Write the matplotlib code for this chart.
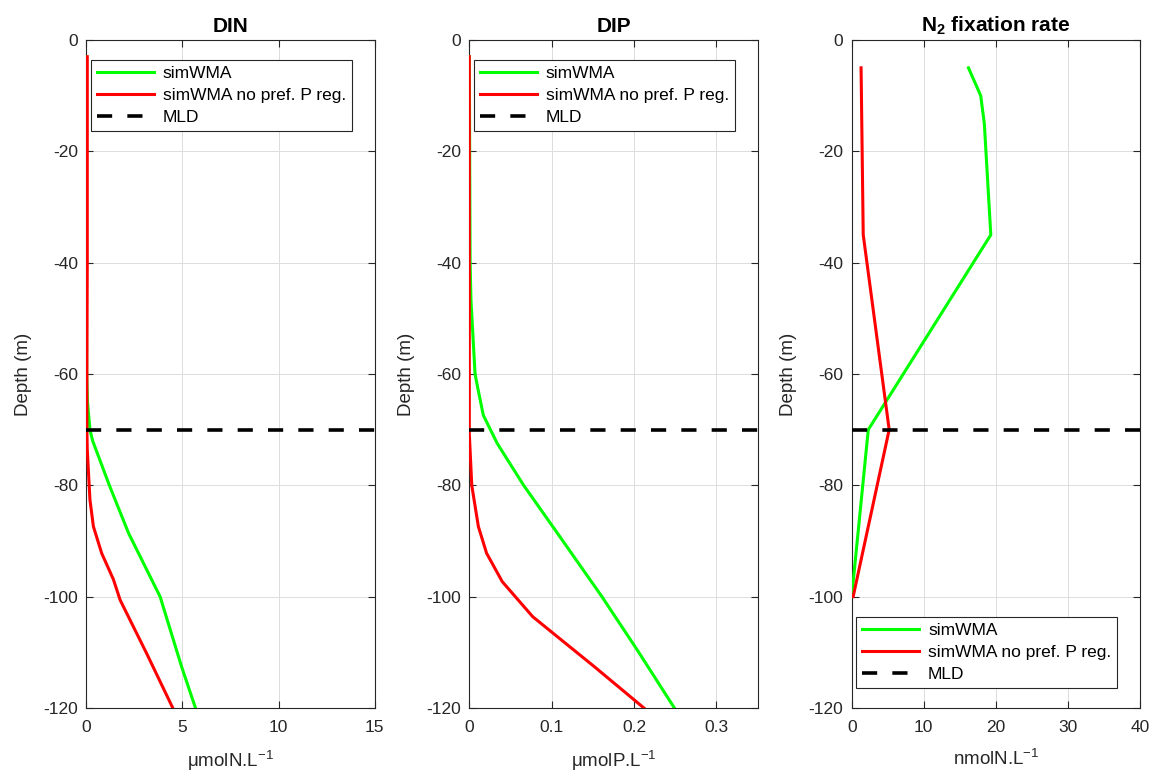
import matplotlib
matplotlib.use("Agg")
import matplotlib.pyplot as plt
import numpy as np

plt.rcParams['font.family'] = ['Liberation Sans', 'DejaVu Sans']
plt.rcParams['mathtext.fontset'] = 'custom'
plt.rcParams['mathtext.rm'] = 'Liberation Sans'
plt.rcParams['mathtext.bf'] = 'Liberation Sans:bold'
plt.rcParams['mathtext.it'] = 'Liberation Sans:italic'
plt.rcParams['axes.unicode_minus'] = False

# ---------------- data ----------------
titles = ["DIN", "DIP", r"$\mathbf{N_2}$ fixation rate"]
xlabels = [r"μmolN.L$^{-1}$", r"μmolP.L$^{-1}$", r"nmolN.L$^{-1}$"]
series_labels = ["simWMA", "simWMA no pref. P reg.", "MLD"]
mld_depth = -70
yticks = [0, -20, -40, -60, -80, -100, -120]

# DIN
din_green_depth = [-3, -20, -40, -60, -65, -70, -72, -80, -88.6, -100, -112.7, -120]
din_green = [0.0, 0.0, 0.0, 0.02, 0.06, 0.19, 0.33, 1.2, 2.2, 3.84, 4.97, 5.68]
din_red_depth = [-3, -20, -40, -60, -70, -73.6, -82.6, -87.4, -92.2, -96.9, -100.6, -110.2, -120]
din_red = [0.05, 0.05, 0.05, 0.03, 0.03, 0.05, 0.19, 0.37, 0.8, 1.41, 1.76, 3.14, 4.5]

# DIP
dip_green_depth = [-3, -40, -46.7, -60, -62.3, -67.4, -72.5, -80, -88.6, -100, -109.6, -120]
dip_green = [0.0, 0.001, 0.002, 0.007, 0.01, 0.017, 0.034, 0.066, 0.107, 0.161, 0.204, 0.249]
dip_red_depth = [-3, -70.7, -80, -87.4, -92.2, -97.3, -103.6, -107.2, -112.6, -120]
dip_red = [0.0, 0.0, 0.003, 0.011, 0.021, 0.04, 0.077, 0.107, 0.152, 0.212]

# N2 fixation
n2_depth = [-5, -10, -15, -35, -70, -100]
n2_green = [16.2, 17.9, 18.4, 19.3, 2.3, 0.0]
n2_red = [1.3, 1.35, 1.4, 1.6, 5.2, 0.2]

xlims = [(0, 15), (0, 0.35), (0, 40)]
xticks = [[0, 5, 10, 15], [0, 0.1, 0.2, 0.3], [0, 10, 20, 30, 40]]
xticklabels = [["0", "5", "10", "15"], ["0", "0.1", "0.2", "0.3"], ["0", "10", "20", "30", "40"]]

data = [
    (din_green_depth, din_green, din_red_depth, din_red),
    (dip_green_depth, dip_green, dip_red_depth, dip_red),
    (n2_depth, n2_green, n2_depth, n2_red),
]

# ---------------- figure ----------------
W, H = 1158, 774
fig = plt.figure(figsize=(W / 100, H / 100), dpi=100)
lefts = [86.3, 469.3, 851.7]
ax_w = 288.3
top_px, bot_px = 40, 708
ax_h = bot_px - top_px

dark = '#262626'
for i in range(3):
    ax = fig.add_axes([lefts[i] / W, 1 - bot_px / H, ax_w / W, ax_h / H])
    gd, gv, rd, rv = data[i]
    ax.plot(gv, gd, color='#00ff00', lw=2.2, label=series_labels[0], zorder=3)
    ax.plot(rv, rd, color='#ff0000', lw=2.2, label=series_labels[1], zorder=3)
    ax.plot(xlims[i], [mld_depth, mld_depth], color='black', lw=2.6,
            linestyle=(0, (4.2, 4.2)), label=series_labels[2], zorder=4)
    ax.set_xlim(*xlims[i])
    ax.set_ylim(-120, 0)
    ax.set_xticks(xticks[i])
    ax.set_xticklabels(xticklabels[i])
    ax.set_yticks(yticks)
    ax.set_yticklabels([str(t) for t in yticks])
    ax.grid(True, color='#dcdcdc', lw=0.7)
    ax.set_axisbelow(True)
    ax.tick_params(direction='in', top=True, right=True, length=5, width=0.8,
                   colors=dark, labelsize=12.5)
    ax.tick_params(axis='x', pad=9)
    ax.tick_params(axis='y', pad=6)
    for sp in ax.spines.values():
        sp.set_color(dark)
        sp.set_linewidth(0.8)
    ax.set_ylabel("Depth (m)", fontsize=13.5, color=dark)
    ax.yaxis.set_label_coords(-54.3 / ax_w, 0.5)
    ax.set_xlabel(xlabels[i], fontsize=13.5, color=dark)
    ax.xaxis.set_label_coords(0.5, -(749 - bot_px) / ax_h)
    ax.set_title(titles[i], fontsize=15, fontweight='bold', pad=6)
    common = dict(fontsize=12.5, handlelength=3.3, handletextpad=0.5, labelspacing=0.38,
                  borderpad=0.35, borderaxespad=0, fancybox=False, framealpha=1,
                  edgecolor=dark)
    if i < 2:
        leg = ax.legend(loc='upper left', bbox_to_anchor=(0.015, 0.97), **common)
    else:
        leg = ax.legend(loc='lower left', bbox_to_anchor=(0.015, 0.03), **common)
    leg.get_frame().set_linewidth(0.8)

fig.savefig("out.png", dpi=100)
